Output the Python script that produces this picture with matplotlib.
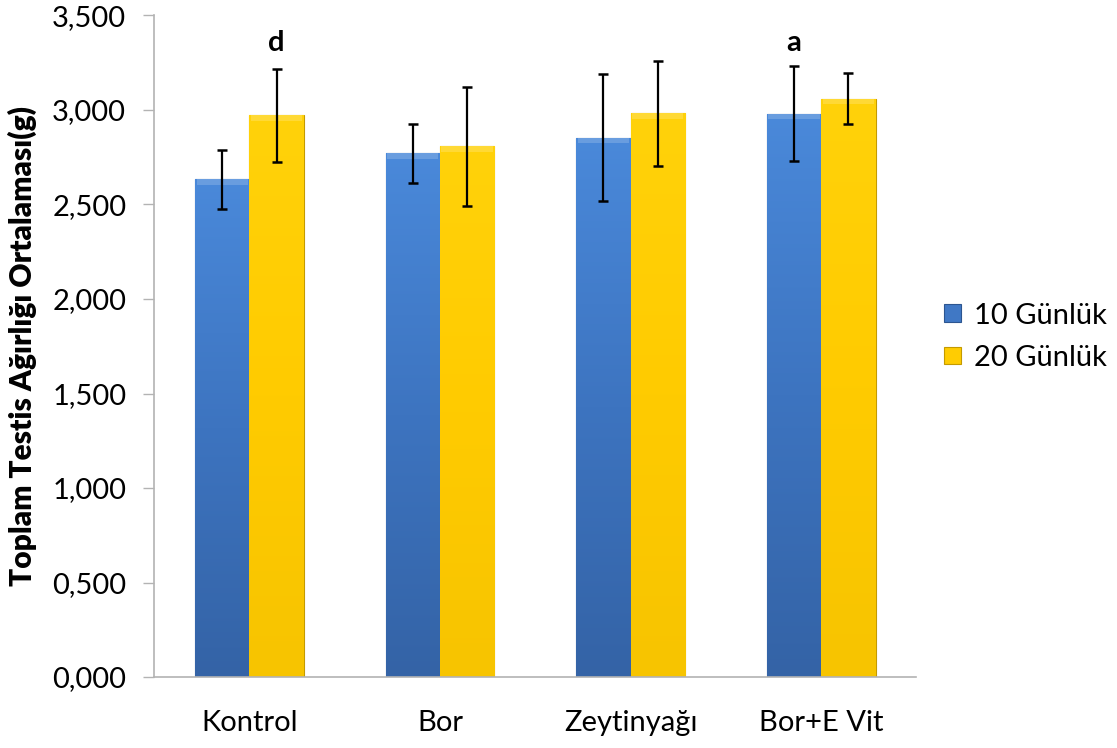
import numpy as np
import matplotlib
matplotlib.use("Agg")
import matplotlib.pyplot as plt
from matplotlib.colors import LinearSegmentedColormap
from matplotlib.patches import Patch

plt.rcParams['font.family'] = ['Lato', 'DejaVu Sans']

# Data
groups = ["Kontrol", "Bor", "Zeytinyağı", "Bor+E Vit"]
series_names = ["10 Günlük", "20 Günlük"]
day10_mean = [2.633, 2.771, 2.853, 2.980]
day10_err = [0.155, 0.156, 0.336, 0.252]
day20_mean = [2.972, 2.808, 2.982, 3.060]
day20_err = [0.245, 0.314, 0.277, 0.134]
letters = {("Kontrol", 1): "d", ("Bor+E Vit", 0): "a"}
yticks = [0.0, 0.5, 1.0, 1.5, 2.0, 2.5, 3.0, 3.5]
ytick_labels = ["0,000", "0,500", "1,000", "1,500", "2,000", "2,500", "3,000", "3,500"]
ylabel = "Toplam Testis Ağırlığı Ortalaması(g)"

blue_cmap = LinearSegmentedColormap.from_list("blue", ["#3463a6", "#3d74c0", "#4a89da"])
yellow_cmap = LinearSegmentedColormap.from_list("yellow", ["#f7c400", "#ffcb00", "#ffd20a"])
edge_blue = "#2c5590"
edge_yellow = "#c49a00"

fig = plt.figure(figsize=(11.17, 7.48), dpi=100)
ax = fig.add_axes([0.1379, 0.0949, 0.6826, 0.8844])

x = np.arange(len(groups))
w = 0.285
means = [day10_mean, day20_mean]
errs = [day10_err, day20_err]
cmaps = [blue_cmap, yellow_cmap]
edges = [edge_blue, edge_yellow]
offsets = [-w / 2, w / 2]

grad = np.linspace(0, 1, 256).reshape(-1, 1)
for s in range(2):
    bars = ax.bar(x + offsets[s], means[s], width=w, color=cmaps[s](0.5),
                  edgecolor=edges[s], linewidth=0.8, zorder=2)
    for b in bars:
        x0, y0 = b.get_x(), b.get_y()
        bw, bh = b.get_width(), b.get_height()
        im = ax.imshow(grad, cmap=cmaps[s], origin="lower", aspect="auto",
                       extent=[x0, x0 + bw, y0, y0 + bh], zorder=2.5)
        im.set_clip_path(b)
        # light bevel along the top edge
        ax.fill_between([x0 + 0.008, x0 + bw - 0.008], y0 + bh - 0.03, y0 + bh,
                        color="white", alpha=0.18, linewidth=0, zorder=2.6)
    ax.errorbar(x + offsets[s], means[s], yerr=errs[s], fmt="none",
                ecolor="black", elinewidth=1.6, capsize=3.5, capthick=1.8, zorder=4)

for (g, s), letter in letters.items():
    i = groups.index(g)
    ax.text(x[i] + offsets[s], 3.355, letter, ha="center", va="center",
            fontsize=21, fontweight="bold", color="black")

ax.set_xlim(-0.5, len(groups) - 0.5)
ax.set_ylim(0, 3.5)
ax.set_xticks(x)
ax.set_xticklabels(groups, fontsize=21)
ax.set_yticks(yticks)
ax.set_yticklabels(ytick_labels, fontsize=21)
ax.tick_params(axis="x", length=0, pad=24)
ax.tick_params(axis="y", length=8, width=1, color="#b3b3b3", pad=12)
for side in ["top", "right"]:
    ax.spines[side].set_visible(False)
for side in ["left", "bottom"]:
    ax.spines[side].set_color("#b3b3b3")
    ax.spines[side].set_linewidth(1.2)
ax.set_ylabel(ylabel, fontsize=21.5, fontweight="heavy", labelpad=11)

handles = [Patch(facecolor=cmaps[s](0.6), edgecolor=edges[s], linewidth=0.8) for s in range(2)]
fig.legend(handles, series_names, loc="center left", bbox_to_anchor=(0.845, 0.55),
           frameon=False, fontsize=21, handlelength=0.6, handleheight=0.55,
           handletextpad=0.45, labelspacing=0.55, borderpad=0, borderaxespad=0)

fig.savefig("out.png", dpi=100, facecolor="white")
